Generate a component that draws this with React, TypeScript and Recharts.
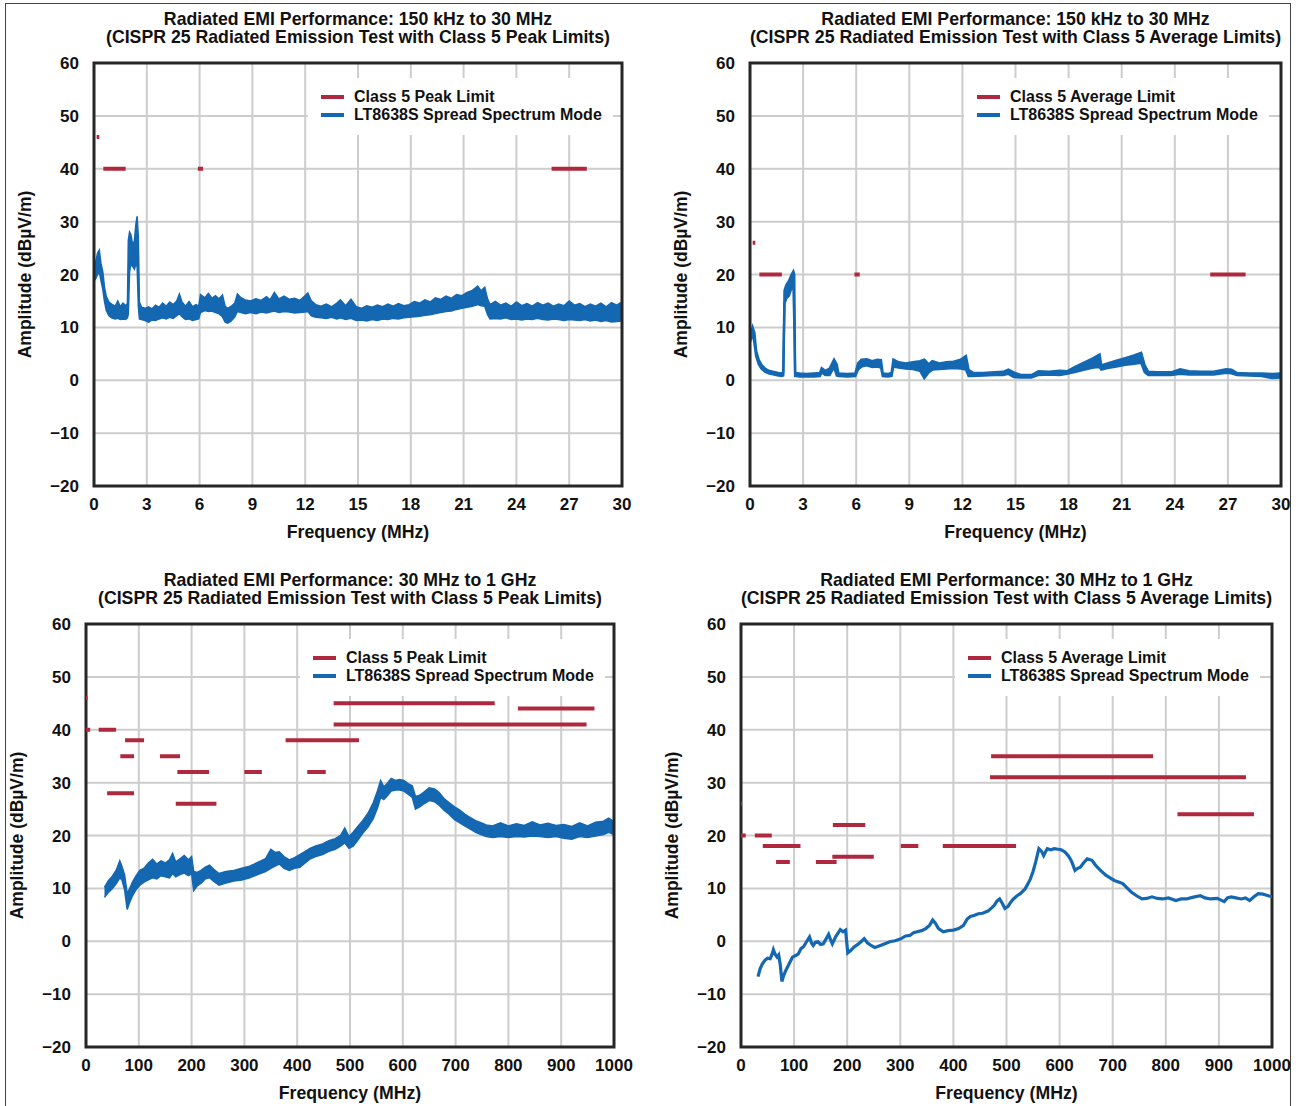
import React from 'react'
import {
  ComposedChart,
  Line,
  Area,
  XAxis,
  YAxis,
  CartesianGrid,
  Legend,
  ReferenceArea,
  Label,
} from 'recharts'

const RED = '#b0283e'
const BLUE = '#1467b1'
const FONT = '"Liberation Sans", Arial, Helvetica, sans-serif'

// axis ticks
const yTicks = [-20, -10, 0, 10, 20, 30, 40, 50, 60]
const xTicksMHz = [0, 3, 6, 9, 12, 15, 18, 21, 24, 27, 30]
const xTicksGHz = [0, 100, 200, 300, 400, 500, 600, 700, 800, 900, 1000]

// CISPR 25 class 5 limit segments: [from MHz, to MHz, dBµV/m]
const peakLimitLow = [
  [0.15, 0.3, 46],
  [0.53, 1.8, 40],
  [5.9, 6.2, 40],
  [26, 28, 40],
]
const avgLimitLow = [
  [0.15, 0.3, 26],
  [0.53, 1.8, 20],
  [5.9, 6.2, 20],
  [26, 28, 20],
]
const peakLimitHigh = [
  [0, 3, 46],
  [0, 8, 40],
  [24, 57, 40],
  [40, 91, 28],
  [65, 91, 35],
  [74, 110, 38],
  [140, 178, 35],
  [170, 247, 26],
  [173, 233, 32],
  [300, 333, 32],
  [378, 517, 38],
  [419, 454, 32],
  [469, 774, 45],
  [469, 948, 41],
  [818, 963, 44],
]
const avgLimitHigh = [
  [0, 2, 26],
  [0, 9, 20],
  [26, 58, 20],
  [41, 112, 18],
  [66, 92, 15],
  [141, 180, 15],
  [173, 234, 22],
  [172, 250, 16],
  [301, 334, 18],
  [380, 518, 18],
  [471, 776, 35],
  [469, 951, 31],
  [822, 966, 24],
]

// peak detector, 150 kHz - 30 MHz: [MHz, low, high]
const peakBandLow = [
  [0.0, 18.8, 20.5], [0.1, 19.2, 22.5], [0.2, 20.0, 24.0], [0.3, 20.5, 24.6],
  [0.4, 18.8, 22.0], [0.5, 17.2, 20.5], [0.6, 14.8, 17.5], [0.7, 13.2, 15.8],
  [0.85, 12.2, 14.8], [1.0, 11.8, 14.4], [1.2, 11.6, 14.0], [1.35, 11.7, 15.0],
  [1.5, 11.5, 13.9], [1.65, 11.6, 14.6], [1.8, 11.5, 14.1], [1.9, 11.8, 14.5],
  [1.95, 12.5, 26.5], [2.02, 20.5, 28.0], [2.1, 22.0, 27.5], [2.2, 21.5, 25.5],
  [2.3, 21.0, 26.5], [2.38, 22.0, 29.5], [2.45, 21.5, 31.0], [2.52, 14.0, 27.0],
  [2.58, 11.6, 14.8], [2.7, 11.5, 13.8], [2.9, 11.3, 13.6], [3.1, 11.0, 13.9],
  [3.3, 11.4, 13.5], [3.5, 11.3, 14.2], [3.7, 11.6, 13.8], [3.9, 11.8, 14.6],
  [4.1, 11.6, 14.0], [4.3, 11.9, 14.8], [4.5, 11.7, 14.3], [4.7, 12.2, 15.0],
  [4.85, 12.6, 16.3], [5.0, 12.0, 14.8], [5.2, 11.5, 14.0], [5.4, 11.6, 14.9],
  [5.6, 11.3, 13.9], [5.8, 11.5, 14.3], [5.95, 11.6, 14.0], [6.05, 12.8, 16.2],
  [6.3, 13.2, 15.6], [6.5, 13.0, 16.4], [6.7, 13.1, 15.5], [6.9, 12.8, 16.0],
  [7.1, 12.6, 15.4], [7.3, 12.0, 16.1], [7.45, 11.0, 14.0], [7.6, 10.8, 13.6],
  [7.8, 11.2, 14.0], [8.0, 12.0, 14.6], [8.15, 13.0, 16.3], [8.35, 12.8, 15.6],
  [8.6, 12.6, 15.2], [8.9, 12.8, 15.0], [9.2, 12.6, 15.4], [9.5, 12.9, 15.1],
  [9.8, 12.7, 15.8], [10.0, 12.9, 15.2], [10.25, 13.1, 16.6], [10.5, 12.8, 15.4],
  [10.8, 13.0, 15.9], [11.1, 12.9, 15.3], [11.4, 12.7, 15.5], [11.7, 12.8, 15.1],
  [12.0, 12.9, 16.0], [12.15, 13.0, 16.5], [12.35, 12.2, 15.0], [12.6, 11.9, 14.3],
  [12.9, 11.8, 14.0], [13.2, 11.7, 14.4], [13.5, 11.9, 13.9], [13.8, 11.6, 14.6],
  [14.0, 11.8, 15.2], [14.3, 11.5, 14.1], [14.6, 11.7, 15.3], [14.9, 11.3, 13.9],
  [15.2, 11.4, 13.6], [15.5, 11.2, 14.1], [15.8, 11.5, 13.8], [16.1, 11.3, 14.2],
  [16.4, 11.6, 13.9], [16.7, 11.5, 14.4], [17.0, 11.7, 14.0], [17.3, 11.6, 14.5],
  [17.6, 11.8, 14.1], [17.9, 11.9, 14.3], [18.2, 12.0, 14.9], [18.5, 12.1, 14.6],
  [18.8, 12.3, 15.2], [19.1, 12.4, 14.8], [19.4, 12.6, 15.6], [19.7, 12.8, 15.3],
  [20.0, 13.0, 15.9], [20.3, 13.1, 15.5], [20.6, 13.4, 16.2], [20.9, 13.6, 16.0],
  [21.2, 13.8, 16.6], [21.5, 14.0, 17.0], [21.8, 14.3, 17.8], [22.0, 14.1, 16.9],
  [22.2, 14.0, 17.6], [22.35, 12.5, 15.5], [22.5, 11.6, 14.3], [22.8, 11.7, 14.9],
  [23.1, 11.6, 14.2], [23.4, 11.8, 14.6], [23.7, 11.5, 14.0], [24.0, 11.6, 14.8],
  [24.3, 11.4, 14.1], [24.6, 11.6, 14.5], [24.9, 11.5, 14.0], [25.2, 11.7, 14.7],
  [25.5, 11.5, 14.2], [25.8, 11.4, 14.6], [26.1, 11.6, 14.0], [26.4, 11.5, 14.4],
  [26.7, 11.3, 14.1], [27.0, 11.5, 15.0], [27.3, 11.4, 14.2], [27.6, 11.3, 14.5],
  [27.9, 11.5, 13.9], [28.2, 11.2, 14.4], [28.5, 11.4, 14.0], [28.8, 11.1, 14.6],
  [29.1, 11.3, 13.9], [29.4, 11.0, 14.7], [29.7, 11.1, 14.2], [30.0, 11.2, 14.8],
]

// average detector, 150 kHz - 30 MHz: [MHz, low, high]
const avgBandLow = [
  [0.0, 7.2, 8.0], [0.15, 9.0, 10.0], [0.25, 7.0, 9.0], [0.35, 4.5, 5.5],
  [0.5, 3.0, 3.8], [0.65, 2.2, 2.9], [0.85, 1.6, 2.2], [1.05, 1.3, 1.8],
  [1.3, 1.1, 1.6], [1.6, 0.9, 1.4], [1.8, 0.8, 1.3], [1.88, 0.9, 1.5],
  [1.95, 14.5, 17.0], [2.05, 15.5, 18.0], [2.2, 16.0, 18.8], [2.35, 17.5, 20.0],
  [2.45, 18.5, 20.6], [2.5, 11.0, 20.0], [2.55, 0.8, 1.4], [2.8, 0.7, 1.3],
  [3.2, 0.7, 1.2], [3.6, 0.7, 1.3], [3.95, 0.8, 1.4], [4.05, 1.5, 2.3],
  [4.25, 1.0, 1.8], [4.5, 1.0, 2.2], [4.75, 2.5, 3.9], [4.9, 0.9, 3.0],
  [5.0, 0.8, 1.3], [5.5, 0.7, 1.2], [5.95, 0.8, 1.3], [6.1, 2.0, 3.2],
  [6.3, 2.6, 3.9], [6.6, 2.8, 4.0], [6.9, 2.5, 3.6], [7.2, 2.6, 3.9],
  [7.4, 2.4, 3.8], [7.5, 0.8, 1.3], [7.8, 0.7, 1.2], [8.0, 0.8, 1.4],
  [8.1, 2.6, 3.9], [8.4, 2.4, 3.4], [8.8, 2.2, 3.2], [9.2, 2.1, 3.4],
  [9.6, 1.8, 3.6], [9.85, 0.4, 3.9], [10.1, 1.5, 3.0], [10.3, 2.0, 3.6],
  [10.7, 2.1, 3.2], [11.1, 2.2, 3.4], [11.5, 2.3, 3.5], [11.9, 2.2, 3.9],
  [12.2, 2.0, 4.6], [12.35, 0.8, 2.0], [12.6, 0.8, 1.4], [13.2, 0.9, 1.4],
  [13.8, 1.0, 1.5], [14.3, 1.0, 1.6], [14.6, 1.2, 2.0], [14.9, 0.6, 1.5],
  [15.3, 0.5, 1.0], [15.9, 0.5, 1.0], [16.3, 1.0, 1.7], [16.9, 1.1, 1.6],
  [17.5, 1.0, 1.8], [17.9, 1.2, 1.7], [18.4, 1.6, 2.6], [18.9, 2.0, 3.4],
  [19.4, 2.4, 4.2], [19.75, 2.5, 4.9], [19.85, 2.0, 2.8], [20.2, 2.3, 3.2],
  [20.7, 2.6, 3.7], [21.2, 2.9, 4.2], [21.7, 3.1, 4.7], [22.1, 3.3, 5.2],
  [22.3, 1.5, 2.8], [22.5, 1.0, 1.6], [23.0, 1.0, 1.5], [23.8, 1.0, 1.5],
  [24.3, 1.2, 2.1], [24.8, 1.1, 1.7], [25.5, 1.1, 1.6], [26.2, 1.1, 1.6],
  [26.9, 1.4, 2.1], [27.2, 1.3, 2.0], [27.5, 1.0, 1.4], [28.2, 0.9, 1.3],
  [28.9, 0.8, 1.3], [29.5, 0.4, 1.2], [30.0, 0.5, 1.3],
]

// peak detector, 30 MHz - 1 GHz: [MHz, low, high]
const peakBandHigh = [
  [35, 8.3, 10.2], [42, 9.2, 11.4], [50, 10.0, 12.3], [58, 11.0, 13.6],
  [64, 12.0, 15.2], [68, 11.6, 14.2], [73, 9.8, 12.6], [78, 6.0, 9.0],
  [82, 7.2, 9.8], [88, 8.6, 11.2], [95, 9.8, 12.4], [102, 10.6, 13.4],
  [110, 11.2, 13.8], [118, 11.6, 14.8], [126, 12.0, 15.5], [134, 11.8, 14.6],
  [142, 12.4, 15.2], [150, 12.2, 14.8], [158, 12.0, 15.4], [164, 12.8, 16.6],
  [170, 12.2, 15.0], [178, 12.6, 15.6], [186, 12.9, 16.2], [194, 12.4, 15.4],
  [200, 12.8, 16.0], [204, 9.6, 13.2], [210, 10.4, 13.0], [218, 11.0, 13.4],
  [226, 11.8, 14.0], [234, 12.0, 14.4], [242, 11.3, 13.6], [252, 10.6, 12.8],
  [265, 11.0, 13.2], [280, 11.4, 13.4], [295, 11.6, 13.8], [310, 12.0, 14.2],
  [325, 12.6, 14.9], [340, 13.2, 15.6], [350, 13.8, 17.4], [358, 14.2, 16.8],
  [366, 14.6, 16.9], [375, 13.8, 16.0], [385, 13.4, 15.4], [395, 13.8, 15.8],
  [405, 14.0, 16.4], [415, 14.8, 17.0], [425, 15.6, 17.6], [435, 16.0, 18.0],
  [448, 16.4, 18.4], [460, 17.0, 19.0], [472, 17.4, 19.4], [482, 18.0, 20.0],
  [490, 18.6, 21.4], [498, 17.6, 19.8], [506, 18.0, 20.6], [514, 19.0, 21.6],
  [524, 20.4, 22.8], [534, 21.6, 24.2], [544, 23.2, 26.2], [552, 25.2, 28.4],
  [558, 27.2, 30.4], [564, 26.8, 29.2], [570, 27.4, 29.8], [578, 28.4, 30.8],
  [586, 28.6, 30.4], [594, 28.6, 30.6], [602, 28.4, 30.4], [610, 27.8, 29.8],
  [618, 27.2, 29.4], [624, 25.0, 27.4], [632, 25.4, 27.6], [640, 26.0, 28.2],
  [650, 26.6, 29.0], [660, 26.4, 28.8], [668, 25.8, 28.2], [678, 24.8, 27.0],
  [688, 24.0, 26.2], [698, 23.0, 25.4], [708, 22.4, 24.8], [718, 21.8, 24.0],
  [728, 21.2, 23.4], [738, 20.6, 22.8], [748, 20.2, 22.4], [758, 19.8, 22.0],
  [770, 19.6, 21.8], [785, 19.8, 22.4], [800, 19.6, 21.8], [815, 19.8, 22.2],
  [830, 19.7, 21.9], [845, 19.9, 22.6], [860, 19.8, 22.0], [875, 19.6, 22.3],
  [890, 19.8, 21.9], [905, 19.5, 22.1], [920, 19.3, 21.7], [935, 19.8, 22.4],
  [950, 19.6, 21.8], [965, 19.9, 22.5], [980, 20.2, 22.7], [990, 20.6, 23.3],
  [1000, 20.2, 22.6],
]

// average detector, 30 MHz - 1 GHz
const avgFreqHigh = [
  32, 36, 40, 45, 50, 55, 58, 61, 64, 68, 71, 74, 77, 80, 84, 90, 97, 103, 108, 113,
  118, 124, 129, 133, 136, 140, 145, 150, 155, 160, 165, 169, 172, 178, 183, 187, 192, 197, 201, 206,
  213, 220, 227, 232, 238, 245, 252, 260, 270, 280, 290, 300, 310, 318, 325, 332, 340, 348, 355, 361,
  366, 372, 381, 390, 400, 410, 419, 426, 432, 440, 447, 455, 465, 472, 477, 482, 487, 492, 497, 503,
  508, 513, 520, 526, 535, 540, 545, 550, 555, 561, 566, 570, 574, 577, 583, 590, 597, 603, 610, 616,
  620, 623, 629, 634, 639, 645, 652, 661, 666, 671, 678, 687, 695, 703, 711, 719, 727, 735, 745, 755,
  764, 774, 784, 794, 805, 819, 829, 839, 850, 865, 874, 884, 897, 910, 916, 923, 932, 942, 950, 958,
  966, 974, 983, 990, 1000,
]
const avgLevelHigh = [
  -6.7, -5.2, -4.3, -3.6, -3.2, -3.3, -2.6, -1.6, -2.4, -3.0, -2.6, -4.5, -7.6, -6.6, -5.6, -4.4, -3.0, -2.7, -2.4, -1.4,
  -1.0, 0.0, 0.8, -0.4, -0.8, -0.2, -0.1, -0.6, -0.5, 0.4, 1.3, 0.2, -0.5, 0.8, 1.6, 2.2, 1.8, 2.1, -2.2, -1.8,
  -1.1, -0.6, 0.0, 0.5, -0.3, -0.8, -1.2, -0.9, -0.5, -0.1, 0.1, 0.4, 1.0, 1.1, 1.6, 1.8, 2.0, 2.4, 3.0, 4.0,
  3.4, 2.4, 1.8, 2.0, 2.1, 2.4, 3.0, 4.2, 4.7, 4.9, 5.2, 5.3, 5.7, 6.3, 6.8, 7.6, 8.0, 7.2, 6.2, 6.6,
  7.4, 8.0, 8.6, 9.0, 9.9, 10.8, 11.8, 13.2, 15.0, 17.5, 17.0, 16.2, 17.0, 17.5, 17.3, 17.5, 17.4, 17.3, 16.9, 16.2,
  15.6, 15.0, 13.4, 13.8, 14.0, 14.8, 15.6, 15.3, 14.6, 14.0, 13.3, 12.5, 12.0, 11.5, 11.2, 10.9, 10.1, 9.3, 8.6, 8.0,
  8.1, 8.4, 8.1, 8.0, 8.2, 7.7, 8.0, 8.0, 8.3, 8.6, 8.2, 8.0, 8.1, 7.5, 8.2, 8.4, 8.2, 8.0, 8.2, 7.7,
  8.4, 9.0, 8.9, 8.7, 8.4,
]

const toLimitPoints = (segs: number[][]) =>
  segs.flatMap(([from, to, level]) => [
    { f: from, v: level },
    { f: to, v: level },
    { f: to, v: null },
  ])

const toBand = (rows: number[][]) => rows.map(([f, lo, hi]) => ({ f, b: [lo, hi] }))

const fmtY = (v: number) => (v < 0 ? `\u2212${Math.abs(v)}` : `${v}`)

const renderLegend = (props: any) => (
  <div style={{ width: 305, height: 57, background: '#fff', position: 'relative', fontFamily: FONT }}>
    {(props.payload || []).map((p: any, i: number) => (
      <div
        key={i}
        style={{ position: 'absolute', left: 13, top: 10 + i * 18, height: 18, display: 'flex', alignItems: 'center' }}
      >
        <span style={{ width: 23, height: 3.5, background: p.color, display: 'inline-block' }} />
        <span style={{ marginLeft: 10, fontSize: 16, fontWeight: 'bold', color: '#111', whiteSpace: 'nowrap' }}>
          {p.value}
        </span>
      </div>
    ))}
  </div>
)

interface PanelProps {
  plotLeft: number
  plotTop: number
  plotW: number
  title: string
  subtitle: string
  xMax: number
  xTicks: number[]
  limitName: string
  limits: number[][]
  band?: number[][]
  bandStroke?: number
  trace?: { f: number; v: number }[]
}

function EmiPanel({
  plotLeft,
  plotTop,
  plotW,
  title,
  subtitle,
  xMax,
  xTicks,
  limitName,
  limits,
  band,
  bandStroke = 1.5,
  trace,
}: PanelProps) {
  const width = 90 + plotW + 20
  const height = 546
  const tickStyle = { fontSize: 17, fontWeight: 'bold', fill: '#111' }
  return (
    <div style={{ position: 'absolute', left: plotLeft - 90, top: plotTop - 63, width, height }}>
      <div
        style={{
          position: 'absolute',
          left: 90 + plotW / 2 - 400,
          width: 800,
          top: 10,
          textAlign: 'center',
          fontSize: 17.7,
          lineHeight: '18px',
          fontWeight: 'bold',
          color: '#111',
          whiteSpace: 'nowrap',
        }}
      >
        <div>{title}</div>
        <div>{subtitle}</div>
      </div>
      <ComposedChart width={width} height={height} margin={{ top: 63, right: 20, bottom: 4, left: 10 }}>
        <CartesianGrid stroke="#cdcdcd" strokeWidth={2} />
        <XAxis
          type="number"
          dataKey="f"
          domain={[0, xMax]}
          ticks={xTicks}
          interval={0}
          height={56}
          axisLine={false}
          tickLine={false}
          tickMargin={6}
          tick={tickStyle}
          allowDataOverflow
        >
          <Label value="Frequency (MHz)" position="insideBottom" offset={4} fontSize={17.7} fontWeight="bold" fill="#111" />
        </XAxis>
        <YAxis
          type="number"
          domain={[-20, 60]}
          ticks={yTicks}
          interval={0}
          width={80}
          axisLine={false}
          tickLine={false}
          tickMargin={9}
          tick={tickStyle}
          tickFormatter={fmtY}
          allowDataOverflow
        >
          <Label
            value="Amplitude (dBµV/m)"
            angle={-90}
            position="insideLeft"
            offset={11}
            fontSize={17.5}
            fontWeight="bold"
            fill="#111"
            style={{ textAnchor: 'middle' }}
          />
        </YAxis>
        <Line
          data={toLimitPoints(limits)}
          dataKey="v"
          name={limitName}
          stroke={RED}
          strokeWidth={4}
          dot={false}
          activeDot={false}
          type="linear"
          isAnimationActive={false}
        />
        {band && (
          <Area
            data={toBand(band)}
            dataKey="b"
            name="LT8638S Spread Spectrum Mode"
            stroke={BLUE}
            strokeWidth={bandStroke}
            fill={BLUE}
            fillOpacity={1}
            type="linear"
            dot={false}
            activeDot={false}
            isAnimationActive={false}
          />
        )}
        {trace && (
          <Line
            data={trace}
            dataKey="v"
            name="LT8638S Spread Spectrum Mode"
            stroke={BLUE}
            strokeWidth={3.2}
            dot={false}
            activeDot={false}
            type="linear"
            isAnimationActive={false}
          />
        )}
        <ReferenceArea x1={0} x2={xMax} y1={-20} y2={60} fill="none" stroke="#262626" strokeWidth={3} ifOverflow="visible" />
        <Legend
          layout="vertical"
          align="center"
          verticalAlign="middle"
          content={renderLegend}
          wrapperStyle={{ left: 304, top: 78, width: 305, height: 57 }}
        />
      </ComposedChart>
    </div>
  )
}

export default function App() {
  const avgTraceHigh = avgFreqHigh.map((f, i) => ({ f, v: avgLevelHigh[i] }))
  return (
    <div
      style={{
        position: 'absolute',
        left: 0,
        top: 0,
        width: 1298,
        height: 1106,
        background: '#fff',
        overflow: 'hidden',
        fontFamily: FONT,
      }}
    >
      <div
        style={{
          position: 'absolute',
          left: 5,
          top: 3,
          width: 1286,
          height: 1120,
          border: '1.5px solid #444',
          boxSizing: 'border-box',
        }}
      />
      <EmiPanel
        plotLeft={94}
        plotTop={63}
        plotW={528}
        title="Radiated EMI Performance: 150 kHz to 30 MHz"
        subtitle="(CISPR 25 Radiated Emission Test with Class 5 Peak Limits)"
        xMax={30}
        xTicks={xTicksMHz}
        limitName="Class 5 Peak Limit"
        limits={peakLimitLow}
        band={peakBandLow}
      />
      <EmiPanel
        plotLeft={750}
        plotTop={63}
        plotW={531}
        title="Radiated EMI Performance: 150 kHz to 30 MHz"
        subtitle="(CISPR 25 Radiated Emission Test with Class 5 Average Limits)"
        xMax={30}
        xTicks={xTicksMHz}
        limitName="Class 5 Average Limit"
        limits={avgLimitLow}
        band={avgBandLow}
        bandStroke={2.4}
      />
      <EmiPanel
        plotLeft={86}
        plotTop={624}
        plotW={528}
        title="Radiated EMI Performance: 30 MHz to 1 GHz"
        subtitle="(CISPR 25 Radiated Emission Test with Class 5 Peak Limits)"
        xMax={1000}
        xTicks={xTicksGHz}
        limitName="Class 5 Peak Limit"
        limits={peakLimitHigh}
        band={peakBandHigh}
      />
      <EmiPanel
        plotLeft={741}
        plotTop={624}
        plotW={531}
        title="Radiated EMI Performance: 30 MHz to 1 GHz"
        subtitle="(CISPR 25 Radiated Emission Test with Class 5 Average Limits)"
        xMax={1000}
        xTicks={xTicksGHz}
        limitName="Class 5 Average Limit"
        limits={avgLimitHigh}
        trace={avgTraceHigh}
      />
    </div>
  )
}
